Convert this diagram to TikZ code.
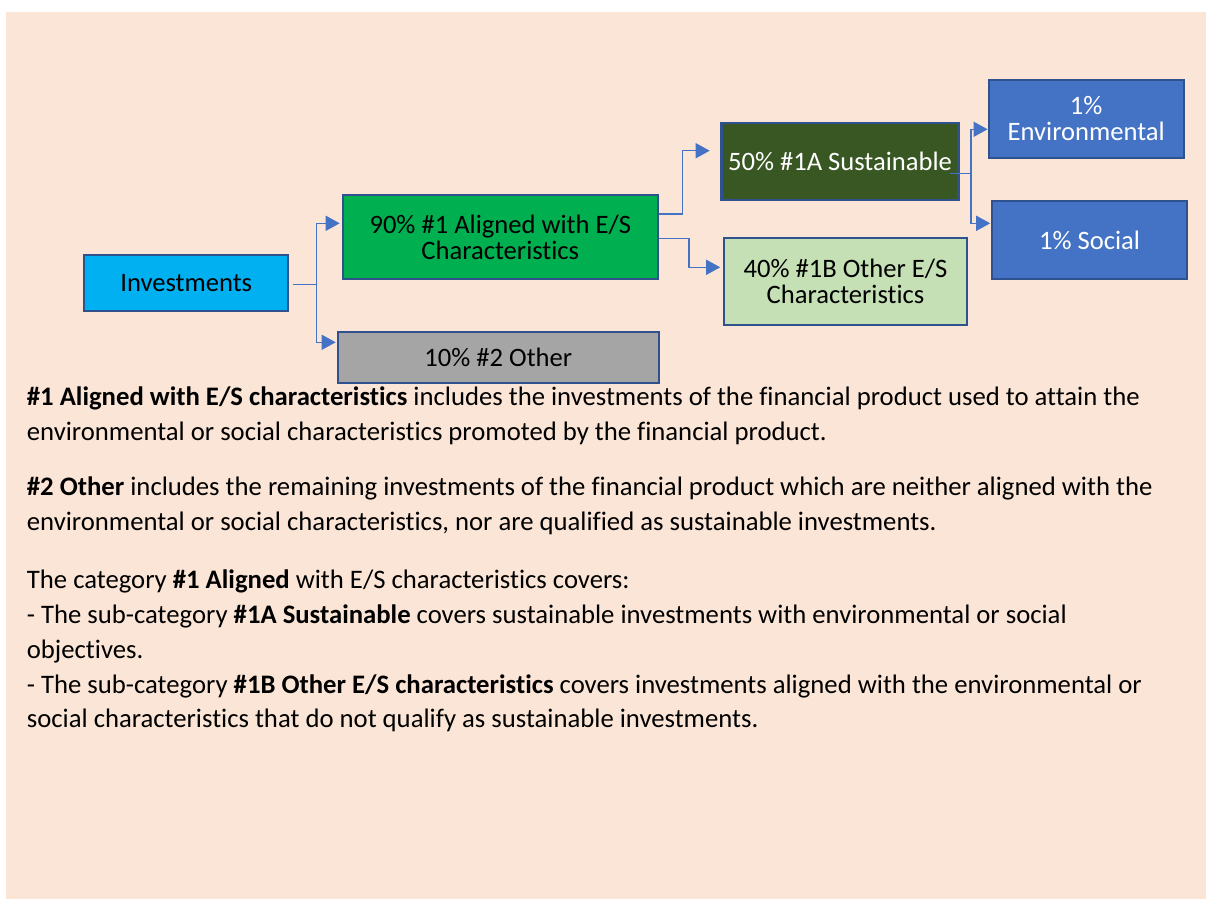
\documentclass[tikz,border=0pt]{standalone}
\usepackage{fontspec}
\setmainfont{Carlito}[Ligatures=NoCommon]
\usetikzlibrary{arrows.meta}
\definecolor{bgpeach}{HTML}{FBE5D6}
\definecolor{bordercol}{HTML}{2F528F}
\definecolor{conncol}{HTML}{4472C4}
\definecolor{invblue}{HTML}{00B0F0}
\definecolor{algreen}{HTML}{00B050}
\definecolor{othgrey}{HTML}{A5A5A5}
\definecolor{susgreen}{HTML}{385723}
\definecolor{oblight}{HTML}{C5E0B4}
\definecolor{esblue}{HTML}{4472C4}
\begin{document}
\begin{tikzpicture}[x=1pt,y=-1pt,
  box/.style={draw=bordercol, line width=2.2pt, align=center, inner sep=0pt,
    font=\fontsize{26.6}{26}\selectfont},
  conn/.style={draw=conncol, line width=1.4pt, -{Triangle[length=14pt,width=15pt]}},
  txt/.style={anchor=base west, inner sep=0pt, font=\fontsize{26.7}{35}\selectfont}]
\useasboundingbox (0,0) rectangle (1208,900);
\fill[bgpeach] (6,12) rectangle (1206,899);
% boxes
\node[box, fill=invblue, minimum width=204pt, minimum height=56pt] (inv) at (186.2,282.9) {Investments};
\node[box, fill=algreen, minimum width=315pt, minimum height=84pt] (al) at (500.3,237) {90\% \#1 Aligned with E/S\\Characteristics};
\node[box, fill=othgrey, minimum width=321pt, minimum height=51pt] (oth) at (498.3,357.3) {10\% \#2 Other};
\node[box, fill=susgreen, text=white, minimum width=237pt, minimum height=77pt] (sus) at (840,161.3) {50\% \#1A Sustainable};
\node[box, fill=oblight, minimum width=243pt, minimum height=87pt] (ob) at (845.5,281.2) {40\% \#1B Other E/S\\Characteristics};
\node[box, fill=esblue, text=white, minimum width=195pt, minimum height=78pt] (env) at (1086.2,118.8) {1\%\\Environmental};
\node[box, fill=esblue, text=white, minimum width=195pt, minimum height=78pt] (soc) at (1089.5,240) {1\% Social};
% connectors
\draw[conn] ([xshift=4pt,yshift=-1.4pt]inv.east) -- ++(23.4,0) coordinate (j1) |- ([xshift=-2pt,yshift=13.7pt]al.west);
\draw[conn] (j1) |- ([xshift=-1pt,yshift=15pt]oth.west);
\draw[conn] ([yshift=23pt]al.east) -- ++(23.7,0) |- ([xshift=-10.7pt,yshift=10.6pt]sus.west);
\draw[conn] ([yshift=-1.7pt]al.east) -- ++(30,0) |- ([xshift=-2.7pt,yshift=13.9pt]ob.west);
\draw[conn] ([xshift=-10pt,yshift=-12pt]sus.east) -- ++(21.4,0) coordinate (j2) |- ([xshift=0pt,yshift=-10.5pt]env.west);
\draw[conn] (j2) |- ([xshift=-0.7pt,yshift=16.7pt]soc.west);
% text
\node[txt] (l1) at (26.7,405) {\textbf{\#1 Aligned with E/S characteristics} includes the investments of the financial product used to attain the};
\node[txt] (l2) at (26.7,440) {environmental or social characteristics promoted by the financial product.};
\node[txt] (l3) at (26.7,495) {\textbf{\#2 Other} includes the remaining investments of the financial product which are neither aligned with the};
\node[txt] (l4) at (26.7,530) {environmental or social characteristics, nor are qualified as sustainable investments.};
\node[txt] (l5) at (26.7,588) {The category \textbf{\#1 Aligned} with E/S characteristics covers:};
\node[txt] (l6) at (26.7,623) {- The sub-category \textbf{\#1A Sustainable} covers sustainable investments with environmental or social};
\node[txt] (l7) at (26.7,658) {objectives.};
\node[txt] (l8) at (26.7,693) {- The sub-category \textbf{\#1B Other E/S characteristics} covers investments aligned with the environmental or};
\node[txt] (l9) at (26.7,727) {social characteristics that do not qualify as sustainable investments.};
\end{tikzpicture}
\end{document}
